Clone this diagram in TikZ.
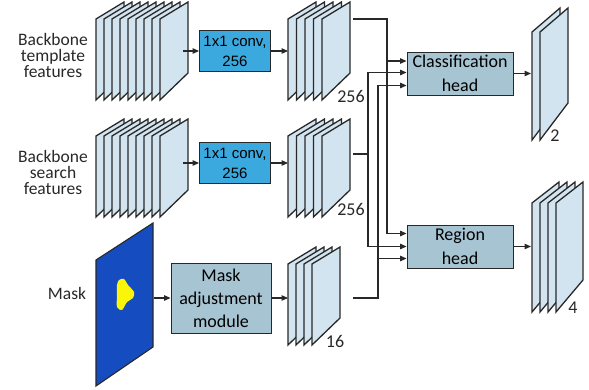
\documentclass[tikz,border=0pt]{standalone}
\usepackage{fontspec}
\setmainfont{Carlito}
\newfontfamily\arialfont{Liberation Sans}
\usetikzlibrary{arrows.meta}
\definecolor{edge}{RGB}{40, 40, 40}
\definecolor{sheetfill}{RGB}{210, 228, 239}
\definecolor{convfill}{RGB}{59, 168, 222}
\definecolor{headfill}{RGB}{167, 196, 210}
\definecolor{maskblue}{RGB}{21, 77, 192}
\definecolor{blob}{RGB}{250, 245, 10}

\begin{document}
\begin{tikzpicture}[x=1pt, y=-1pt,
      sheet/.style={draw=edge, fill=sheetfill, line width=1.3pt, line join=miter},
      box/.style={draw=edge, line width=0.9pt, align=center, inner sep=0pt},
      conv/.style={box, fill=convfill, minimum width=71pt, minimum height=41pt, font=\arialfont\fontsize{15}{20}\selectfont},
      head/.style={box, fill=headfill, minimum width=106pt, minimum height=43pt, font=\fontsize{18}{24}\selectfont},
      label/.style={align=center, text=edge, inner sep=0pt, font=\fontsize{17.5}{16}\selectfont},
      num/.style={text=edge, inner sep=0pt, font=\fontsize{18}{18}\selectfont},
      arrow/.style={-{Triangle[length=6.5pt, width=5.5pt]}, draw=edge, line width=1.2pt},
      line/.style={draw=edge, line width=1.2pt}
    ]
      \useasboundingbox (0,0) rectangle (589,390);

      % Backbone template features
      \node[label] (tmpl) at (53,55) {Backbone\\template\\features};
      \foreach \i in {0,...,8}
        \draw[sheet] (96+8*\i,19) -- ++(28,-17) -- ++(0,71) -- ++(-28,27) -- cycle;
      \coordinate (f1out) at (183,51);

      % Backbone search features
      \node[label] (srch) at (53,172) {Backbone\\search\\features};
      \foreach \i in {0,...,8}
        \draw[sheet] (96+8*\i,136) -- ++(28,-17) -- ++(0,71) -- ++(-28,27) -- cycle;
      \coordinate (f2out) at (183,163);

      % Mask
      \node[label] (masklbl) at (67,293) {Mask};
      \draw[draw=edge, fill=maskblue, line width=1.1pt] (96,260) -- ++(57,-37) -- ++(0,124) -- ++(-57,39) -- cycle;
      \fill[blob] plot[smooth cycle] coordinates {(119,280) (124,279) (128,285) (134,292) (133,298) (127,302) (122,310) (117,307) (117,295) (117,285)};
      \coordinate (maskout) at (154,298);

      % 1x1 convolutions
      \node[conv] (conv1) at (235,51) {1x1 conv,\\256};
      \node[conv] (conv2) at (235,163) {1x1 conv,\\256};

      % Mask adjustment module
      \node[box, fill=headfill, minimum width=100pt, minimum height=70pt, font=\fontsize{18}{23}\selectfont] (mam) at (221,298) {Mask\\adjustment\\module};

      % Reduced features
      \foreach \i in {0,...,4}
        \draw[sheet] (288+8.5*\i,19) -- ++(28,-17) -- ++(0,71) -- ++(-28,27) -- cycle;
      \foreach \i in {0,...,4}
        \draw[sheet] (288+8.5*\i,136) -- ++(28,-17) -- ++(0,71) -- ++(-28,27) -- cycle;
      \foreach \i in {0,...,3}
        \draw[sheet] (288+8*\i,264) -- ++(28,-17) -- ++(0,71) -- ++(-28,27) -- cycle;
      \node[num] (c256a) at (351,96) {256};
      \node[num] (c256b) at (351,209) {256};
      \node[num] (c16) at (335,341) {16};
      \coordinate (s3in) at (288,51);
      \coordinate (s4in) at (288,163);
      \coordinate (s5in) at (288,298);
      \coordinate (s3out) at (353,19);
      \coordinate (s4out) at (353,154);
      \coordinate (s5out) at (353,298);

      % Heads
      \node[head] (cls) at (460,73.5) {Classification\\head};
      \node[head] (reg) at (460,246.5) {Region\\head};
      \coordinate (ct) at ([yshift=12.5pt]cls.west);
      \coordinate (cm) at ([yshift=1pt]cls.west);
      \coordinate (cb) at ([yshift=-12pt]cls.west);
      \coordinate (rt) at ([yshift=13pt]reg.west);
      \coordinate (rm) at ([yshift=0pt]reg.west);
      \coordinate (rb) at ([yshift=-12pt]reg.west);

      % Outputs
      \foreach \i in {0,1}
        \draw[sheet] (532+8*\i,32) -- ++(28,-24) -- ++(0,95) -- ++(-28,37) -- cycle;
      \foreach \i in {0,...,3}
        \draw[sheet] (532+8*\i,203) -- ++(27,-21) -- ++(0,98) -- ++(-27,32) -- cycle;
      \node[num] (o2) at (555,136) {2};
      \node[num] (o4) at (573,308) {4};
      \coordinate (o1in) at (531,73.5);
      \coordinate (o2in) at (531,246.5);

      % Arrows
      \draw[arrow] (f1out) -- (conv1);
      \draw[arrow] (conv1) -- (s3in);
      \draw[arrow] (f2out) -- (conv2);
      \draw[arrow] (conv2) -- (s4in);
      \draw[arrow] (maskout) -- (mam);
      \draw[arrow] (mam) -- (s5in);

      % Connections to heads
      \coordinate (bus3) at (387,19);
      \coordinate (bus4) at (368,154);
      \coordinate (bus5) at (378,298);
      \draw[arrow] (s3out) -- (bus3) |- (rt);
      \draw[arrow] (bus3 |- ct) -- (ct);
      \draw[line] (s4out) -- (bus4);
      \draw[arrow] (bus4) |- (cm);
      \draw[arrow] (bus4) |- (rm);
      \draw[arrow] (s5out) -- (bus5) |- (cb);
      \draw[arrow] (bus5 |- rb) -- (rb);
      \draw[arrow] (cls) -- (o1in);
      \draw[arrow] (reg) -- (o2in);
    \end{tikzpicture}
\end{document}
